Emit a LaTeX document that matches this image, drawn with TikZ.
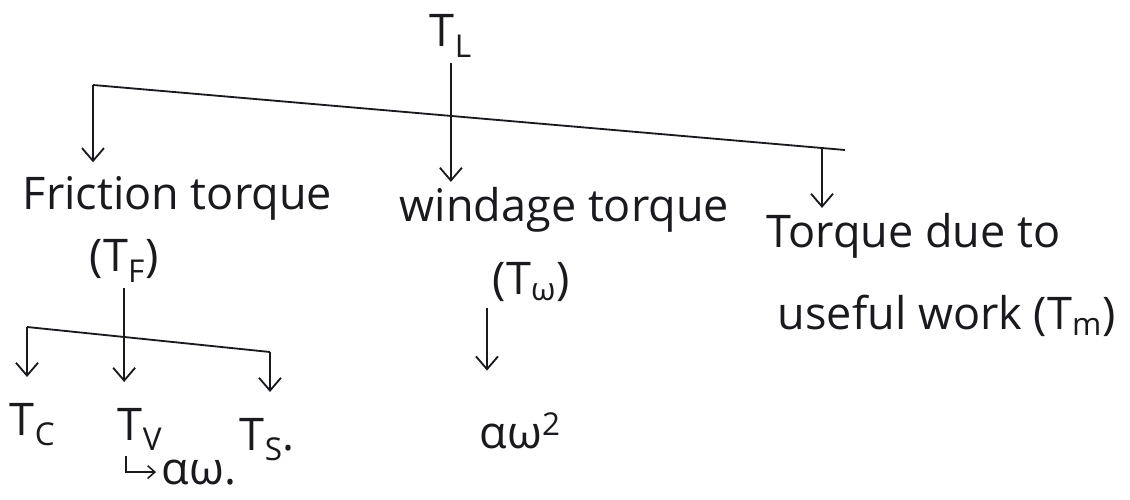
\documentclass[tikz,border=0pt]{standalone}
\usepackage{fontspec}
\newfontfamily\hand{Open Sans}
\usetikzlibrary{arrows.meta,positioning,calc}
\definecolor{ink}{RGB}{25,25,30}
\tikzset{
  >={Straight Barb[length=3.2mm,width=5.5mm]},
  lbl/.style={font=\hand\fontsize{32}{36}\selectfont,text=ink,inner sep=4pt,anchor=base west},
  wire/.style={draw=ink,line width=1.3pt},
  flow/.style={->,draw=ink,line width=1.3pt,shorten >=#1},
  flow/.default=0mm,
  subflow/.style={flow=#1},
  subflow/.default=5mm,
  hookflow/.style={->,draw=ink,line width=1.1pt,>={Straight Barb[length=1.8mm,width=3.2mm]}},
}
\begin{document}
\begin{tikzpicture}[x=0.25mm,y=-0.25mm]
  \useasboundingbox (0,0) rectangle (1130,500);
  % load torque and its three parts
  \node[lbl] (TL) at (424,47) {T\textsubscript{L}};
  \node[lbl] (fric) at (17,210) {Friction torque};
  \node[lbl] (wind) at (394,222) {windage torque};
  \node[lbl] (due) at (761,248) {Torque due to};
  \node[lbl] (work) at (772,330) {useful work (T\textsubscript{m})};
  \node[lbl] (Tf) at (84,272) {(T\textsubscript{F})};
  \node[lbl] (Tw) at (487,295) {(T\textsubscript{ω})};
  % friction parts
  \node[lbl] (Tc) at (4,435) {T\textsubscript{C}};
  \node[lbl] (Tv) at (112,440) {T\textsubscript{V}};
  \node[lbl] (Ts) at (234,450) {T\textsubscript{S}.};
  \node[lbl] (aw) at (156,484) {αω.};
  \node[lbl] (aw2) at (474,448) {αω\textsuperscript{2}};

  \coordinate (hubL) at (93,85);
  \coordinate (hubR) at (845,150);
  \coordinate (hubM) at (822,148);
  \draw[wire] (hubL) -- (hubR);
  \draw[flow] (TL.south) -- (TL.south |- wind.north);
  \draw[flow=2.2mm] (hubL) -- (hubL |- fric.north);
  \draw[flow] (hubM) -- (hubM |- due.north);

  \coordinate (subL) at (27,327);
  \coordinate (subR) at (270,352);
  \draw[wire] (subL) -- (subR);
  \draw[subflow] (Tf.south) -- (Tf.south |- Tv.north);
  \draw[subflow] (subL) -- (subL |- Tc.north);
  \draw[subflow] (subR) -- (subR |- Ts.north);
  \draw[hookflow] ([xshift=-3.5mm]Tv.south) |- (aw.west);

  \draw[subflow=9mm] (Tw.south west) -- (Tw.south west |- aw2.north);
\end{tikzpicture}
\end{document}
